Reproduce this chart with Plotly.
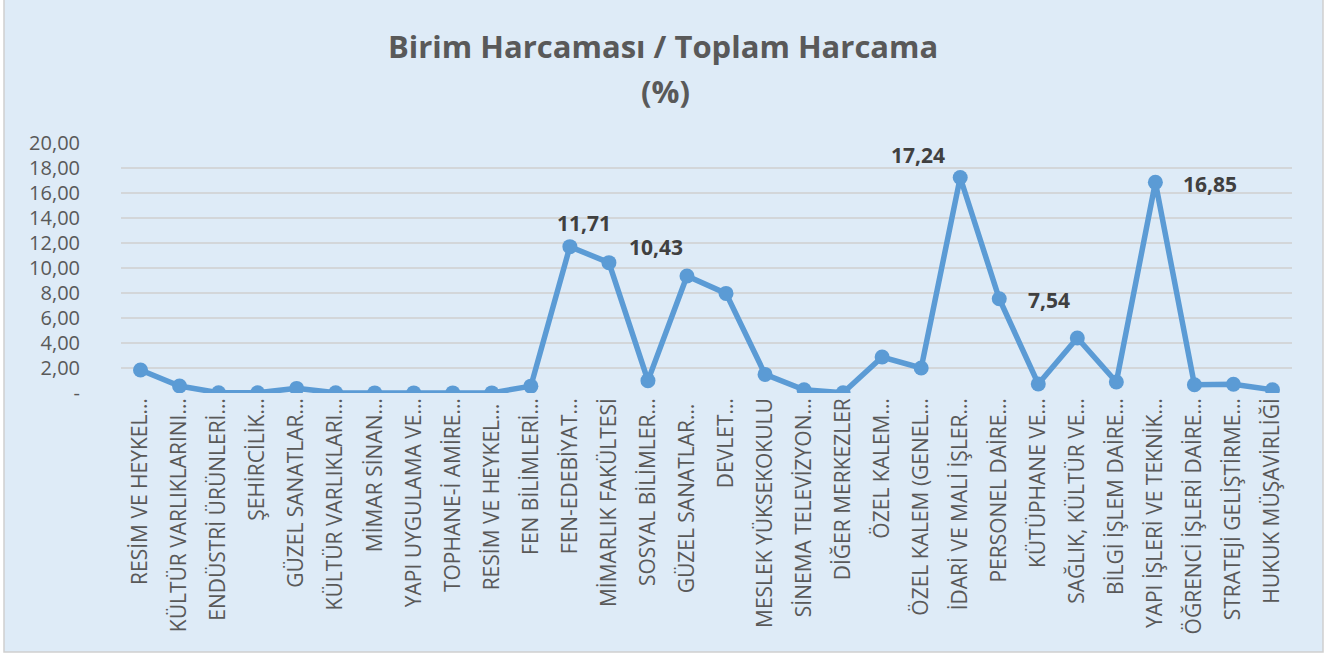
import plotly.graph_objects as go

categories = [
    "RESİM VE HEYKEL…", "KÜLTÜR VARLIKLARINI…", "ENDÜSTRİ ÜRÜNLERİ…", "ŞEHİRCİLİK…",
    "GÜZEL SANATLAR…", "KÜLTÜR VARLIKLARI…", "MİMAR SİNAN…", "YAPI UYGULAMA VE…",
    "TOPHANE-İ AMİRE…", "RESİM VE HEYKEL… ", "FEN BİLİMLERİ…", "FEN-EDEBİYAT…",
    "MİMARLIK FAKÜLTESİ", "SOSYAL BİLİMLER…", "GÜZEL SANATLAR… ", "DEVLET…",
    "MESLEK YÜKSEKOKULU", "SİNEMA TELEVİZYON…", "DİĞER MERKEZLER", "ÖZEL KALEM…",
    "ÖZEL KALEM (GENEL…", "İDARİ VE MALİ İŞLER…", "PERSONEL DAİRE…", "KÜTÜPHANE VE…",
    "SAĞLIK, KÜLTÜR VE…", "BİLGİ İŞLEM DAİRE…", "YAPI İŞLERİ VE TEKNİK…", "ÖĞRENCİ İŞLERİ DAİRE…",
    "STRATEJİ GELİŞTİRME…", "HUKUK MÜŞAVİRLİĞİ",
]
values = [
    1.84, 0.56, 0.02, 0.02, 0.37, 0.02, 0.01, 0.01, 0.01, 0.01,
    0.55, 11.71, 10.43, 0.99, 9.36, 7.97, 1.49, 0.26, 0.02, 2.88,
    2.00, 17.24, 7.54, 0.72, 4.40, 0.88, 16.85, 0.66, 0.70, 0.26,
]
y_tickvals = [0, 2, 4, 6, 8, 10, 12, 14, 16, 18, 20]
y_ticktext = ["-", "2,00", "4,00", "6,00", "8,00", "10,00", "12,00", "14,00", "16,00", "18,00", "20,00"]
labelled_points = [11, 12, 21, 22, 26]
title_line1 = "Birim Harcaması / Toplam Harcama"
title_line2 = "(%)"

# label placement (category offset, y position in data units)
label_pos = {11: (0.35, 13.62), 12: (1.2, 11.68), 21: (-1.08, 19.06), 22: (1.27, 7.41), 26: (1.41, 16.74)}

def fmt(v):
    return f"{v:.2f}".replace(".", ",")

BLUE = "#5B9BD5"
GRAY = "#595959"
FONT = "Open Sans"

L, R, T, B = 121, 41, 143, 264
W, H = 1333, 657
pw = W - L - R
ph = H - T - B

fig = go.Figure()
fig.add_trace(go.Scatter(
    x=list(range(len(categories))), y=values, mode="lines+markers",
    line=dict(color=BLUE, width=5.5),
    marker=dict(color=BLUE, size=15),
    hoverinfo="skip", showlegend=False,
))

annotations = []
for i in labelled_points:
    dx, yy = label_pos[i]
    annotations.append(dict(
        x=i + dx, y=yy, xref="x", yref="y", text=f"<b>{fmt(values[i])}</b>",
        showarrow=False, font=dict(family=FONT, size=21, color="#404040"),
        xanchor="center", yanchor="middle",
    ))

def ypaper(px):
    return (T + ph - px) / ph

def xpaper(px):
    return (px - L) / pw

annotations.append(dict(x=xpaper(663), xref="paper", y=ypaper(46), yref="paper",
                        text=f"<b>{title_line1}</b>", showarrow=False,
                        font=dict(family=FONT, size=31, color=GRAY),
                        xanchor="center", yanchor="middle"))
annotations.append(dict(x=xpaper(665), xref="paper", y=ypaper(91), yref="paper",
                        text=f"<b>{title_line2}</b>", showarrow=False,
                        font=dict(family=FONT, size=31, color=GRAY),
                        xanchor="center", yanchor="middle"))

fig.update_layout(
    width=W, height=H,
    margin=dict(l=L, r=R, t=T, b=B, autoexpand=False),
    paper_bgcolor="white",
    plot_bgcolor="rgba(0,0,0,0)",
    annotations=annotations,
    shapes=[dict(type="rect", xref="paper", yref="paper",
                 x0=xpaper(4), x1=xpaper(1323), y0=ypaper(652), y1=ypaper(-20),
                 fillcolor="#DEEBF7", line=dict(color="#D0D0D0", width=1.5), layer="below")],
    xaxis=dict(
        type="linear", range=[-0.5, len(categories) - 0.5],
        tickvals=list(range(len(categories))), ticktext=categories,
        tickangle=-90, showgrid=False, zeroline=False, showline=False,
        tickfont=dict(family=FONT, size=21, color=GRAY), ticks="",
        automargin=False,
    ),
    yaxis=dict(
        range=[0, 20], tickvals=y_tickvals, ticktext=y_ticktext,
        showgrid=True, gridcolor="#D3D6D9", gridwidth=1.5, zeroline=False, showline=False,
        tickfont=dict(family=FONT, size=20, color=GRAY), ticks="",
        ticklabelstandoff=40, automargin=False,
    ),
)

fig.write_html("out.html", config={"displayModeBar": False},
               post_script="document.body.style.margin='0';document.body.style.overflow='hidden';")
